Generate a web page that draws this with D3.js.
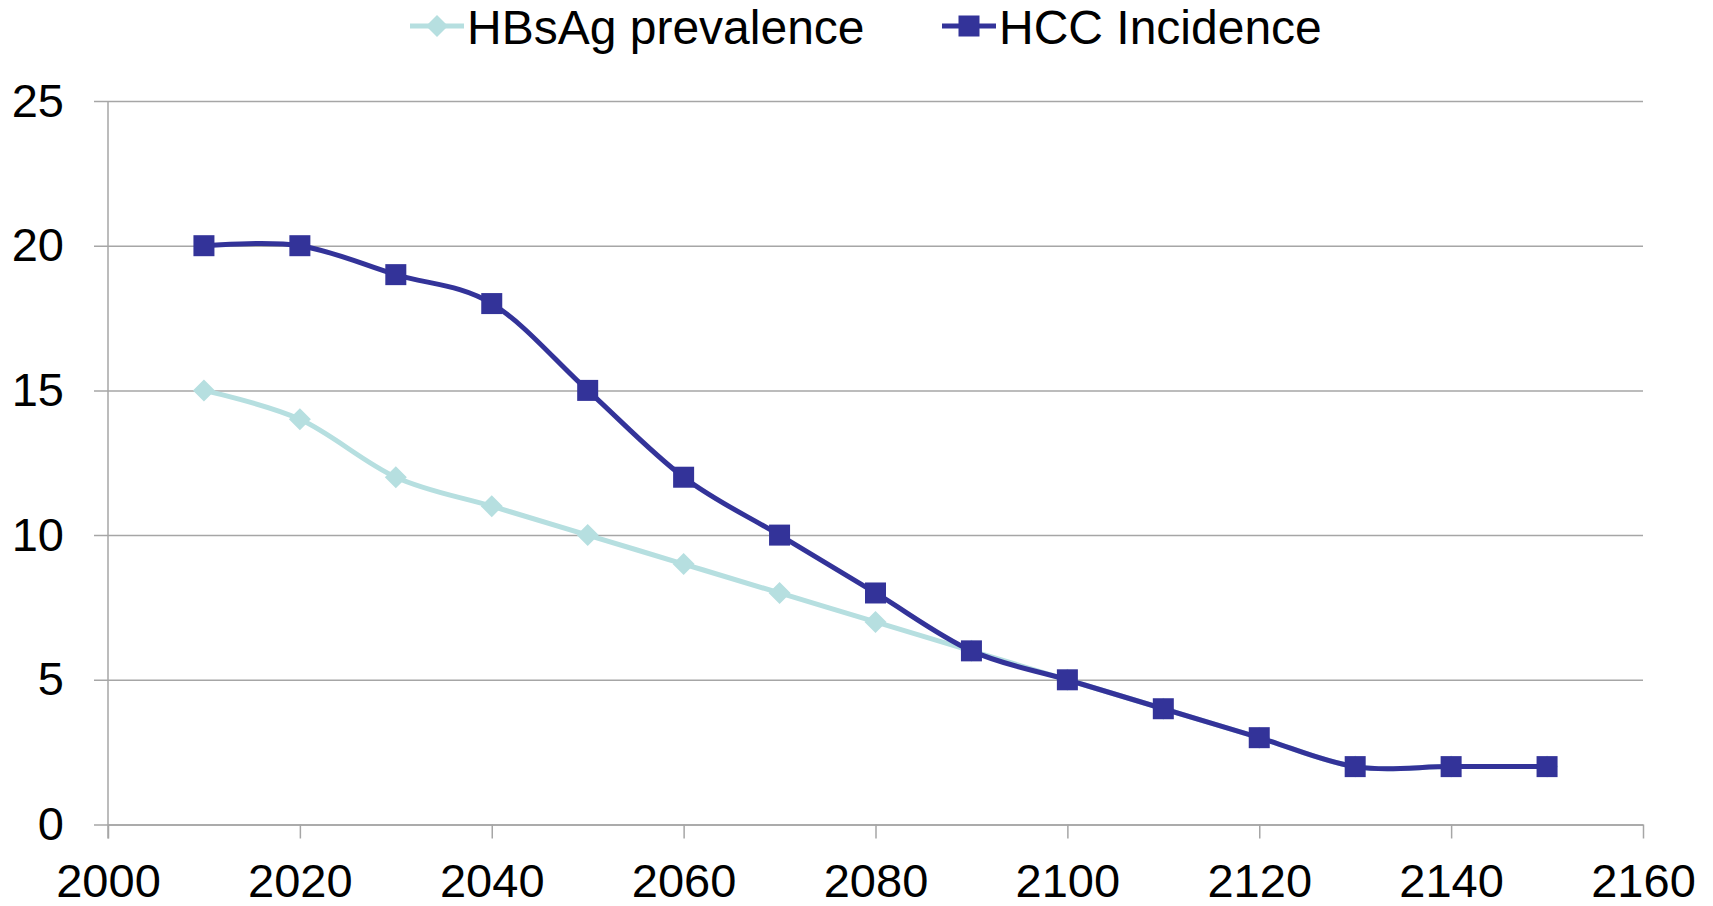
<!DOCTYPE html>
<html>
<head>
<meta charset="utf-8">
<script src="https://cdn.jsdelivr.net/npm/d3@7/dist/d3.min.js"></script>
<style>
  html, body { margin: 0; padding: 0; background: #fff; }
  svg { display: block; font-family: Arial, "Liberation Sans", sans-serif; }
</style>
</head>
<body>
<svg id="chart" width="1713" height="906"></svg>
<script>
// Projection by decade
const years = [2010, 2020, 2030, 2040, 2050, 2060, 2070, 2080, 2090, 2100, 2110, 2120, 2130, 2140, 2150];
const hbsagPrevalence = [15, 14, 12, 11, 10, 9, 8, 7, 6, 5, 4, 3, 2, 2, 2];
const hccIncidence = [20, 20, 19, 18, 15, 12, 10, 8, 6, 5, 4, 3, 2, 2, 2];
const xTicks = [2000, 2020, 2040, 2060, 2080, 2100, 2120, 2140, 2160];
const yTicks = [0, 5, 10, 15, 20, 25];
const seriesNames = ["HBsAg prevalence", "HCC Incidence"];

const colors = { hbsag: "#b6dfe0", hcc: "#333399", grid: "#a6a6a6", text: "#000" };
const fontSize = 47;
const legendFontSize = 48;

const svg = d3.select("#chart");

const x = d3.scaleLinear().domain([2000, 2160]).range([108, 1643]);
const y = d3.scaleLinear().domain([0, 25]).range([824.5, 101]);

// Horizontal gridlines with left tick stubs
const yAxis = d3.axisLeft(y).tickValues(yTicks).tickSize(-(1643 - 108)).tickPadding(30).tickSizeOuter(0);
const gy = svg.append("g").attr("transform", "translate(108,0)").call(yAxis);
gy.select(".domain").remove();
gy.selectAll(".tick line")
  .attr("x1", -14)
  .attr("stroke", colors.grid)
  .attr("stroke-width", 1.5);
gy.selectAll(".tick text")
  .attr("x", -44)
  .attr("font-size", fontSize)
  .attr("fill", colors.text)
  .attr("font-family", "Arial, 'Liberation Sans', sans-serif");

// Vertical axis line
svg.append("line")
  .attr("x1", 108).attr("x2", 108)
  .attr("y1", y(25)).attr("y2", y(0) + 14)
  .attr("stroke", colors.grid).attr("stroke-width", 1.5);

// Bottom axis
const xAxis = d3.axisBottom(x).tickValues(xTicks).tickFormat(d3.format("d")).tickSize(14).tickPadding(25).tickSizeOuter(0);
const gx = svg.append("g").attr("transform", `translate(0,${y(0)})`).call(xAxis);
gx.select(".domain").attr("stroke", colors.grid).attr("stroke-width", 1.5);
gx.selectAll(".tick line").attr("stroke", colors.grid).attr("stroke-width", 1.5);
gx.selectAll(".tick text")
  .attr("font-size", fontSize)
  .attr("fill", colors.text)
  .attr("font-family", "Arial, 'Liberation Sans', sans-serif");

const line = d3.line()
  .x((d, i) => x(years[i]))
  .y(d => y(d))
  .curve(d3.curveCardinal.tension(0));

const diamond = s => `M0,${-s}L${s},0L0,${s}L${-s},0Z`;

// HBsAg prevalence
svg.append("path")
  .datum(hbsagPrevalence)
  .attr("d", line)
  .attr("fill", "none")
  .attr("stroke", colors.hbsag)
  .attr("stroke-width", 5);
svg.append("g").selectAll("path")
  .data(hbsagPrevalence)
  .join("path")
  .attr("transform", (d, i) => `translate(${x(years[i])},${y(d)})`)
  .attr("d", diamond(11))
  .attr("fill", colors.hbsag);

// HCC incidence
svg.append("path")
  .datum(hccIncidence)
  .attr("d", line)
  .attr("fill", "none")
  .attr("stroke", colors.hcc)
  .attr("stroke-width", 5);
svg.append("g").selectAll("rect")
  .data(hccIncidence)
  .join("rect")
  .attr("x", (d, i) => x(years[i]) - 10.5)
  .attr("y", d => y(d) - 10.5)
  .attr("width", 21)
  .attr("height", 21)
  .attr("fill", colors.hcc);

// Legend
const legendItems = [
  { name: seriesNames[0], color: colors.hbsag, x0: 410, marker: "diamond" },
  { name: seriesNames[1], color: colors.hcc, x0: 942, marker: "square" }
];
const lg = svg.append("g").selectAll("g").data(legendItems).join("g")
  .attr("transform", d => `translate(${d.x0},26)`);
lg.append("line")
  .attr("x1", 0).attr("x2", 54)
  .attr("stroke", d => d.color).attr("stroke-width", 5);
lg.each(function(d) {
  const g = d3.select(this);
  if (d.marker === "diamond") {
    g.append("path").attr("transform", "translate(27,0)").attr("d", diamond(11)).attr("fill", d.color);
  } else {
    g.append("rect").attr("x", 16.5).attr("y", -10.5).attr("width", 21).attr("height", 21).attr("fill", d.color);
  }
});
lg.append("text")
  .attr("x", 57)
  .attr("y", 18)
  .attr("font-size", legendFontSize)
  .attr("fill", colors.text)
  .text(d => d.name);
</script>
</body>
</html>
